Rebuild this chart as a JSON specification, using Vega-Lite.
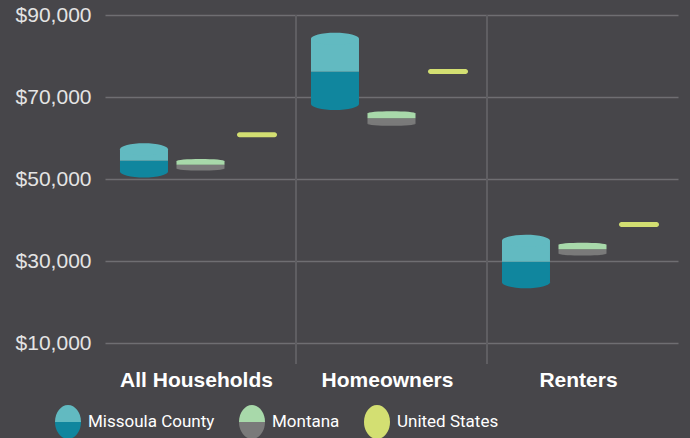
{
  "$schema": "https://vega.github.io/schema/vega-lite/v6.json",
  "width": 573,
  "height": 349,
  "autosize": {"type": "none"},
  "padding": {"left": 105, "top": 15, "right": 12, "bottom": 74},
  "background": "#47464a",
  "config": {"view": {"stroke": null}, "font": "Liberation Sans"},
  "data": {
    "values": [
      {"cat": "All Households", "series": "Missoula County", "low": 51900, "est": 54500, "high": 57300},
      {"cat": "All Households", "series": "Montana", "low": 52600, "est": 53550, "high": 54450},
      {"cat": "All Households", "series": "United States", "est": 60850},
      {"cat": "Homeowners", "series": "Missoula County", "low": 68300, "est": 76200, "high": 84200},
      {"cat": "Homeowners", "series": "Montana", "low": 63500, "est": 64850, "high": 66050},
      {"cat": "Homeowners", "series": "United States", "est": 76250},
      {"cat": "Renters", "series": "Missoula County", "low": 24900, "est": 29900, "high": 35000},
      {"cat": "Renters", "series": "Montana", "low": 31900, "est": 32950, "high": 34050},
      {"cat": "Renters", "series": "United States", "est": 38950}
    ]
  },
  "encoding": {
    "x": {
      "field": "cat",
      "type": "nominal",
      "sort": ["All Households", "Homeowners", "Renters"],
      "scale": {"paddingInner": 0, "paddingOuter": 0},
      "axis": {
        "title": null,
        "domain": false,
        "ticks": false,
        "grid": false,
        "labelAngle": 0,
        "labelFont": "Liberation Sans",
        "labelFontSize": 21,
        "labelFontWeight": "bold",
        "labelColor": "#ffffff",
        "labelPadding": 5,
        "labelOffset": -4
      }
    }
  },
  "layer": [
    {
      "transform": [{"filter": "datum.series === 'United States' && datum.cat !== 'All Households'"}],
      "mark": {"type": "rule", "color": "#5f5e62", "strokeWidth": 2},
      "encoding": {
        "x": {"field": "cat", "type": "nominal", "bandPosition": 0}
      }
    },
    {
      "transform": [{"filter": "datum.series !== 'United States'"}],
      "mark": {"type": "point", "filled": true, "opacity": 1, "strokeWidth": 0, "size": 2304},
      "encoding": {
        "xOffset": {"field": "series", "type": "nominal", "scale": {"domain": ["Missoula County", "Montana", "United States"], "paddingInner": 0, "paddingOuter": 0.19}},
        "y": {
          "field": "low",
          "type": "quantitative",
          "scale": {"domain": [5000, 90000], "nice": false, "zero": false},
          "axis": {
            "title": null,
            "values": [10000, 30000, 50000, 70000, 90000],
            "format": "$,.0f",
            "domain": false,
            "ticks": false,
            "grid": true,
            "labelFont": "Liberation Sans",
            "labelFontSize": 21,
            "labelColor": "#e4e4e4",
            "labelPadding": 14,
            "gridColor": "#6f6e72",
            "gridWidth": 1.3
          }
        },
        "fill": {
          "field": "series",
          "type": "nominal",
          "scale": {"domain": ["Missoula County", "Montana", "United States"], "range": ["#10869e", "#7a7a7a", "#d3df72"]},
          "legend": null
        },
        "shape": {
          "field": "series",
          "type": "nominal",
          "scale": {"domain": ["Missoula County", "Montana"], "range": ["M-1,0 A1,0.25 0 1,0 1,0 A1,0.25 0 1,0 -1,0 Z", "M-1,0 A1,0.085 0 1,0 1,0 A1,0.085 0 1,0 -1,0 Z"]},
          "legend": null
        }
      }
    },
    {
      "transform": [{"filter": "datum.series !== 'United States'"}],
      "mark": {"type": "bar", "width": 48, "opacity": 1},
      "encoding": {
        "xOffset": {"field": "series", "type": "nominal", "scale": {"domain": ["Missoula County", "Montana", "United States"], "paddingInner": 0, "paddingOuter": 0.19}},
        "y": {
          "field": "low",
          "type": "quantitative",
          "scale": {"domain": [5000, 90000], "nice": false, "zero": false},
          "axis": {
            "title": null,
            "values": [10000, 30000, 50000, 70000, 90000],
            "format": "$,.0f",
            "domain": false,
            "ticks": false,
            "grid": true,
            "labelFont": "Liberation Sans",
            "labelFontSize": 21,
            "labelColor": "#e4e4e4",
            "labelPadding": 14,
            "gridColor": "#6f6e72",
            "gridWidth": 1.3
          }
        },
        "y2": {"field": "est"},
        "fill": {
          "field": "series",
          "type": "nominal",
          "scale": {"domain": ["Missoula County", "Montana", "United States"], "range": ["#10869e", "#7a7a7a", "#d3df72"]},
          "legend": {
            "orient": "none",
            "legendX": -50,
            "legendY": 394,
            "direction": "horizontal",
            "title": null,
            "padding": 0,
            "symbolType": "M-1,0 A1,1.3 0 0,0 1,0 Z",
            "symbolSize": 676,
            "symbolStrokeWidth": 0,
            "labelFont": "Roboto",
            "labelFontSize": 17,
            "labelColor": "#ffffff",
            "labelOpacity": 0,
            "labelOffset": 7,
            "columnPadding": 24
          }
        }
      }
    },
    {
      "transform": [{"filter": "datum.series !== 'United States'"}],
      "mark": {"type": "bar", "width": 48, "opacity": 1},
      "encoding": {
        "xOffset": {"field": "series", "type": "nominal", "scale": {"domain": ["Missoula County", "Montana", "United States"], "paddingInner": 0, "paddingOuter": 0.19}},
        "y": {
          "field": "est",
          "type": "quantitative",
          "scale": {"domain": [5000, 90000], "nice": false, "zero": false},
          "axis": {
            "title": null,
            "values": [10000, 30000, 50000, 70000, 90000],
            "format": "$,.0f",
            "domain": false,
            "ticks": false,
            "grid": true,
            "labelFont": "Liberation Sans",
            "labelFontSize": 21,
            "labelColor": "#e4e4e4",
            "labelPadding": 14,
            "gridColor": "#6f6e72",
            "gridWidth": 1.3
          }
        },
        "y2": {"field": "high"},
        "fill": {
          "field": "series",
          "type": "nominal",
          "scale": {"domain": ["Missoula County", "Montana", "United States"], "range": ["#62bac1", "#a8d9aa", "#d3df72"]},
          "legend": {
            "orient": "none",
            "legendX": -50,
            "legendY": 394,
            "direction": "horizontal",
            "title": null,
            "padding": 0,
            "symbolType": "M-1,0 A1,1.3 0 0,1 1,0 Z",
            "symbolSize": 676,
            "symbolStrokeWidth": 0,
            "labelFont": "Roboto",
            "labelFontSize": 17,
            "labelColor": "#ffffff",
            "labelOffset": 7,
            "columnPadding": 24
          }
        }
      }
    },
    {
      "transform": [{"filter": "datum.series !== 'United States'"}],
      "mark": {"type": "point", "filled": true, "opacity": 1, "strokeWidth": 0, "size": 2304},
      "encoding": {
        "xOffset": {"field": "series", "type": "nominal", "scale": {"domain": ["Missoula County", "Montana", "United States"], "paddingInner": 0, "paddingOuter": 0.19}},
        "y": {
          "field": "high",
          "type": "quantitative",
          "scale": {"domain": [5000, 90000], "nice": false, "zero": false},
          "axis": {
            "title": null,
            "values": [10000, 30000, 50000, 70000, 90000],
            "format": "$,.0f",
            "domain": false,
            "ticks": false,
            "grid": true,
            "labelFont": "Liberation Sans",
            "labelFontSize": 21,
            "labelColor": "#e4e4e4",
            "labelPadding": 14,
            "gridColor": "#6f6e72",
            "gridWidth": 1.3
          }
        },
        "fill": {
          "field": "series",
          "type": "nominal",
          "scale": {"domain": ["Missoula County", "Montana", "United States"], "range": ["#62bac1", "#a8d9aa", "#d3df72"]},
          "legend": null
        },
        "shape": {
          "field": "series",
          "type": "nominal",
          "scale": {"domain": ["Missoula County", "Montana"], "range": ["M-1,0 A1,0.25 0 1,0 1,0 A1,0.25 0 1,0 -1,0 Z", "M-1,0 A1,0.085 0 1,0 1,0 A1,0.085 0 1,0 -1,0 Z"]},
          "legend": null
        }
      }
    },
    {
      "transform": [{"filter": "datum.series === 'United States'"}],
      "mark": {"type": "tick", "orient": "horizontal", "thickness": 5, "size": 40, "cornerRadius": 2.5, "opacity": 1, "color": "#d3df72"},
      "encoding": {
        "xOffset": {"field": "series", "type": "nominal", "scale": {"domain": ["Missoula County", "Montana", "United States"], "paddingInner": 0, "paddingOuter": 0.19}},
        "y": {
          "field": "est",
          "type": "quantitative",
          "scale": {"domain": [5000, 90000], "nice": false, "zero": false},
          "axis": {
            "title": null,
            "values": [10000, 30000, 50000, 70000, 90000],
            "format": "$,.0f",
            "domain": false,
            "ticks": false,
            "grid": true,
            "labelFont": "Liberation Sans",
            "labelFontSize": 21,
            "labelColor": "#e4e4e4",
            "labelPadding": 14,
            "gridColor": "#6f6e72",
            "gridWidth": 1.3
          }
        }
      }
    }
  ],
  "resolve": {"scale": {"fill": "independent"}, "legend": {"fill": "independent"}}
}
